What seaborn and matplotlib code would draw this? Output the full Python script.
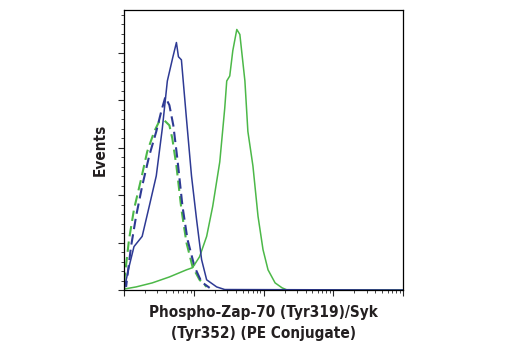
import numpy as np
import pandas as pd
import matplotlib
matplotlib.use("Agg")
import matplotlib.pyplot as plt
import matplotlib.ticker as mticker
from matplotlib import font_manager
import seaborn as sns

# ===== Data (intensity on log axis, events) =====
blue_solid_x = [10, 11.8, 13.9, 18.2, 23, 29, 35.4, 41.8, 50.0, 56.4, 60.3, 66.5, 78.5, 92.8, 109.6, 129.5, 153, 213, 278, 100000]
blue_solid_y = [0, 9.8, 18.3, 22.6, 35.3, 48.1, 68.1, 88.1, 98.0, 104.3, 98.3, 97.0, 72.3, 48.1, 29.8, 12.8, 4.3, 1.3, 0.2, 0]

green_solid_x = [10, 14.9, 25.4, 44.7, 78.5, 96, 121, 153, 187, 236, 278, 297, 328, 363, 414, 458, 541, 597, 705, 834, 984, 1161, 1466, 1849, 2183, 100000]
green_solid_y = [0.4, 1.3, 3.0, 5.5, 8.5, 9.4, 14.0, 22.6, 35.3, 54.0, 76.6, 88.1, 90.2, 100.9, 109.8, 107.7, 88.1, 66.8, 52.3, 31.1, 17.0, 8.5, 3.0, 0.9, 0, 0]

blue_dash_x = [10.7, 12.6, 14.9, 18.2, 23, 29, 34.2, 39.1, 44.7, 50.9, 58.2, 68.9, 81.3, 102.6, 129, 169]
blue_dash_y = [1.3, 18.3, 31.1, 43.8, 56.6, 66.8, 75.3, 81.3, 77.9, 69.4, 55.3, 35.3, 21.3, 9.8, 3.4, 0.9]

green_dash_x = [10, 11.8, 13.9, 17.6, 21.5, 27.1, 32, 37.8, 44.7, 49.3, 56.4, 66.5, 78.5, 96, 121, 153]
green_dash_y = [3.0, 21.3, 34.0, 46.8, 58.3, 66.8, 71.1, 71.5, 69.4, 63.8, 52.3, 34.0, 20.0, 9.8, 4.3, 1.3]

BLUE = "#2e3a94"
GREEN = "#4cb848"
TEXT = "#231f20"

sns.set_style("ticks")
plt.rcParams['font.family'] = ['DejaVu Sans']

# narrow bold face for the labels, if there is one
names = {f.name for f in font_manager.fontManager.ttflist}
label_font = dict(fontweight='bold', color=TEXT)
if 'Liberation Sans Narrow' in names:
    label_font['family'] = 'Liberation Sans Narrow'
    label_size = 13
else:
    label_font['family'] = 'DejaVu Sans'
    label_font['fontstretch'] = 'condensed'
    label_size = 11

fig = plt.figure(figsize=(5.2, 3.5), dpi=100)
ax = fig.add_axes([0.2385, 0.1714, 0.5365, 0.80])

sns.lineplot(x=green_dash_x, y=green_dash_y, ax=ax, color=GREEN, lw=1.5,
             linestyle=(0, (5, 2.5)), estimator=None, sort=False)
sns.lineplot(x=blue_dash_x, y=blue_dash_y, ax=ax, color=BLUE, lw=1.5,
             linestyle=(2, (5, 2.5)), estimator=None, sort=False)
sns.lineplot(x=green_solid_x, y=green_solid_y, ax=ax, color=GREEN, lw=1.1,
             estimator=None, sort=False)
sns.lineplot(x=blue_solid_x, y=blue_solid_y, ax=ax, color=BLUE, lw=1.1,
             estimator=None, sort=False)

ax.set_xscale('log')
ax.set_xlim(10, 100000)
ax.set_ylim(0, 118)
ax.xaxis.set_major_locator(mticker.LogLocator(base=10))
ax.xaxis.set_minor_locator(mticker.LogLocator(base=10, subs=np.arange(2, 10)))
ax.yaxis.set_major_locator(mticker.MultipleLocator(20))
ax.yaxis.set_minor_locator(mticker.MultipleLocator(4))
ax.xaxis.set_major_formatter(mticker.NullFormatter())
ax.xaxis.set_minor_formatter(mticker.NullFormatter())
ax.yaxis.set_major_formatter(mticker.NullFormatter())
ax.tick_params(which='major', length=4, width=0.8, direction='out')
ax.tick_params(which='minor', length=2, width=0.6, direction='out')

for s in ax.spines.values():
    s.set_linewidth(0.9)
    s.set_color('black')
    s.set_visible(True)

ax.set_xlabel('Phospho-Zap-70 (Tyr319)/Syk\n(Tyr352) (PE Conjugate)',
              fontsize=label_size, linespacing=1.55, labelpad=3, **label_font)
ax.set_ylabel('Events', fontsize=label_size, labelpad=4, **label_font)

fig.savefig('out.png', dpi=100)
